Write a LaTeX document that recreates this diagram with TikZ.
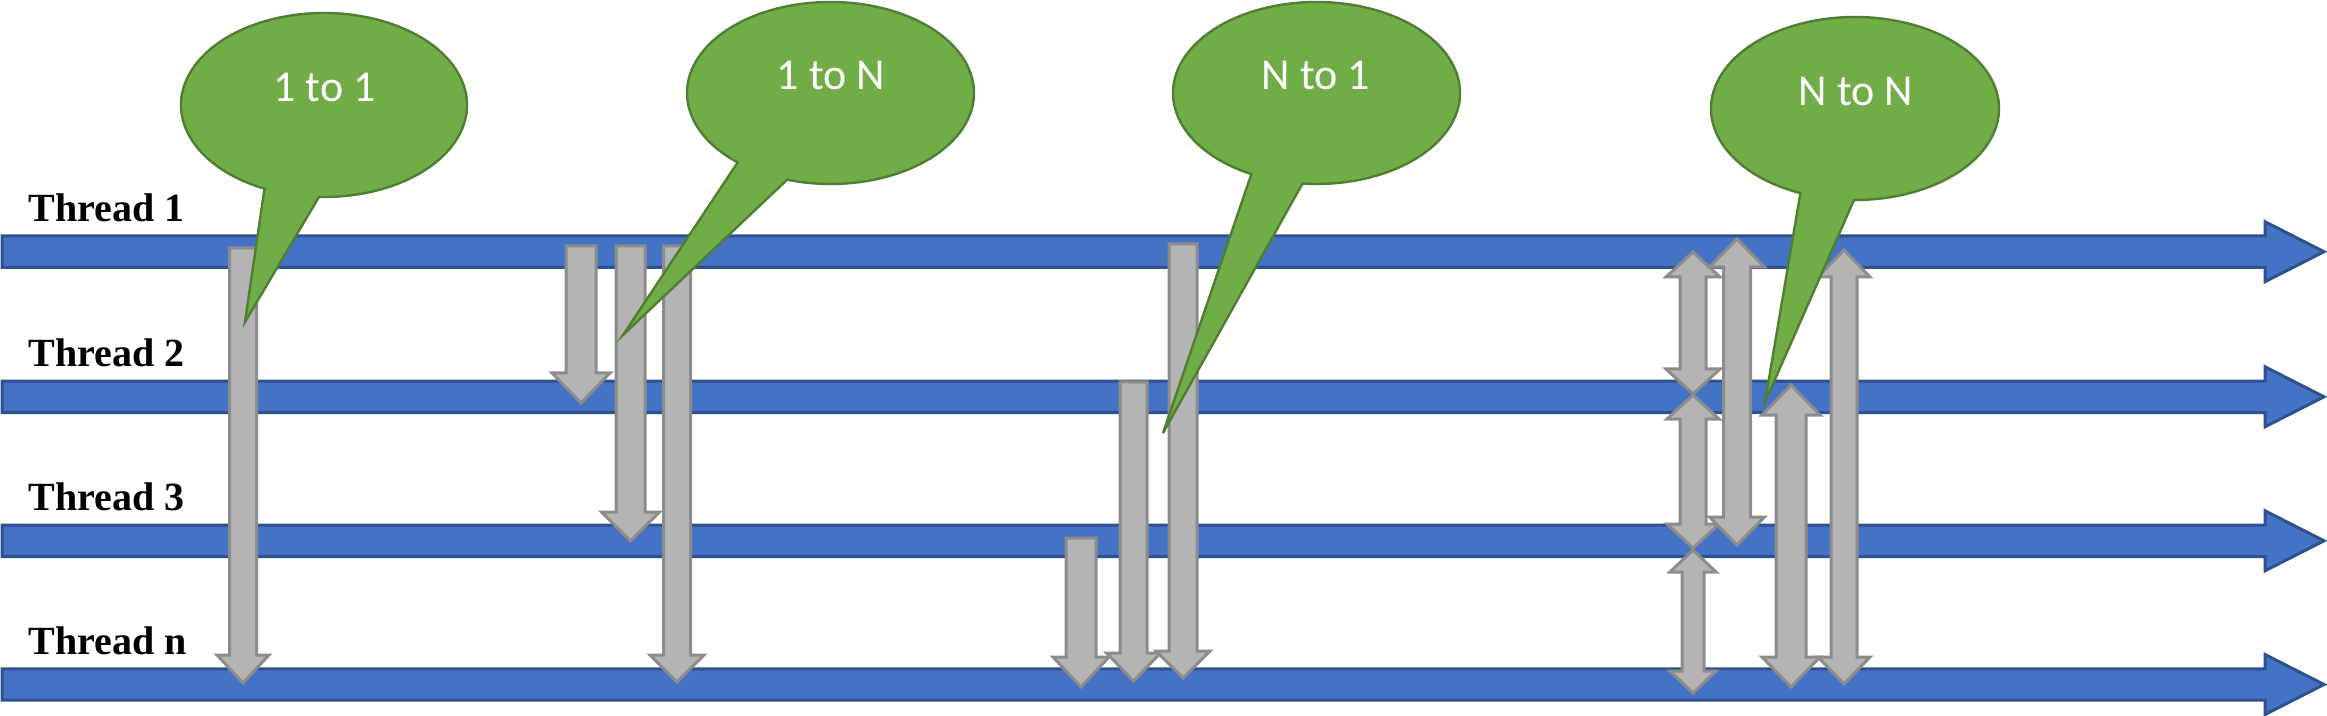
\documentclass[tikz,border=0pt]{standalone}
\usepackage{fontspec}
\setmainfont{Liberation Serif}
\newfontfamily\bubblefont{Carlito}
\usetikzlibrary{calc}
\definecolor{threadfill}{HTML}{4472C4}
\definecolor{threadline}{HTML}{2F528F}
\definecolor{mapfill}{HTML}{B4B4B4}
\definecolor{mapline}{HTML}{8C8C8C}
\definecolor{bubblefill}{HTML}{70AD47}
\definecolor{bubbleline}{HTML}{507E32}
\tikzset{
  threadshape/.style={fill=threadfill,draw=threadline,line width=1.5pt,line join=miter},
  mapshape/.style={fill=mapfill,draw=mapline,line width=1.5pt,line join=miter},
  bubbleshape/.style={fill=bubblefill,draw=bubbleline,line width=1.2pt,line join=miter},
  bubbletext/.style={text=white,font=\bubblefont\fontsize{22}{26}\selectfont,inner sep=0pt,anchor=base},
  threadlabel/.style={font=\bfseries\fontsize{20}{24}\selectfont,inner sep=0pt,anchor=base west}
}
% thread bar: #1 = centre y
\newcommand\threadbar[1]{%
  \path[threadshape] (2,#1-15.7) -- (2265,#1-15.7) -- (2265,#1-30) -- (2324,#1)
    -- (2265,#1+30) -- (2265,#1+15.7) -- (2,#1+15.7) -- cycle;}
% down arrow: x, top, tip, shaft half, head half, head length
\newcommand\dnarrow[6]{%
  \path[mapshape] (#1-#4,#2) -- (#1+#4,#2) -- (#1+#4,#3-#6) -- (#1+#5,#3-#6) -- (#1,#3)
    -- (#1-#5,#3-#6) -- (#1-#4,#3-#6) -- cycle;}
% double arrow: x, top tip, bottom tip, shaft half, head half, head length
\newcommand\bdarrow[6]{%
  \path[mapshape] (#1,#2) -- (#1+#5,#2+#6) -- (#1+#4,#2+#6) -- (#1+#4,#3-#6) -- (#1+#5,#3-#6)
    -- (#1,#3) -- (#1-#5,#3-#6) -- (#1-#4,#3-#6) -- (#1-#4,#2+#6) -- (#1-#5,#2+#6) -- cycle;}
\begin{document}
\begin{tikzpicture}[x=0.5pt,y=-0.5pt]
\useasboundingbox (0,0) rectangle (2327,716);
% threads
\threadbar{251.7}
\threadbar{396.8}
\threadbar{540.8}
\threadbar{684.5}
\node[threadlabel] (l1) at (28,222) {Thread 1};
\node[threadlabel] (l2) at (28,366) {Thread 2};
\node[threadlabel] (l3) at (28,510) {Thread 3};
\node[threadlabel] (ln) at (28,654) {Thread n};
% 1 to 1
\dnarrow{243}{248}{683}{13.5}{26}{28}
% 1 to N
\dnarrow{581}{246}{403}{15}{29}{30}
\dnarrow{630.5}{246}{541}{14.5}{29}{29}
\dnarrow{677}{246}{682}{13.5}{27}{27}
% N to 1
\dnarrow{1081}{538}{687}{15}{28}{30}
\dnarrow{1133.5}{382}{681}{13.5}{27}{28}
\dnarrow{1183}{244}{678}{14}{27}{27}
% N to N
\bdarrow{1693}{252}{394}{13}{27}{25}
\bdarrow{1693}{395}{548}{13}{26}{24}
\bdarrow{1693}{550}{693}{11}{23}{22}
\bdarrow{1737}{239}{545}{13.5}{27.5}{28}
\bdarrow{1791}{385}{687}{15}{29}{30}
\bdarrow{1844}{250}{684}{13}{26}{27}
% callouts
\coordinate (c1) at (324,105);
\path[bubbleshape] (245,322) -- ($(c1)+(114.6:143 and 92)$)
  arc[start angle=114.6,end angle=452,x radius=143,y radius=92] -- cycle;
\node[bubbletext] (t1) at (324.5,102) {1 to 1};
\coordinate (c2) at (830.5,93);
\path[bubbleshape] (623,335) -- ($(c2)+(130.3:143.5 and 91)$)
  arc[start angle=130.3,end angle=467.6,x radius=143.5,y radius=91] -- cycle;
\node[bubbletext] (t2) at (831,90) {1 to N};
\coordinate (c3) at (1316.5,93);
\path[bubbleshape] (1163,433) -- ($(c3)+(117:143.5 and 91)$)
  arc[start angle=117,end angle=455.6,x radius=143.5,y radius=91] -- cycle;
\node[bubbletext] (t3) at (1316,90) {N to 1};
\coordinate (c4) at (1855,108.5);
\path[bubbleshape] (1765,402) -- ($(c4)+(112.3:144 and 91.5)$)
  arc[start angle=112.3,end angle=450.4,x radius=144,y radius=91.5] -- cycle;
\node[bubbletext] (t4) at (1856,106) {N to N};
\end{tikzpicture}
\end{document}
